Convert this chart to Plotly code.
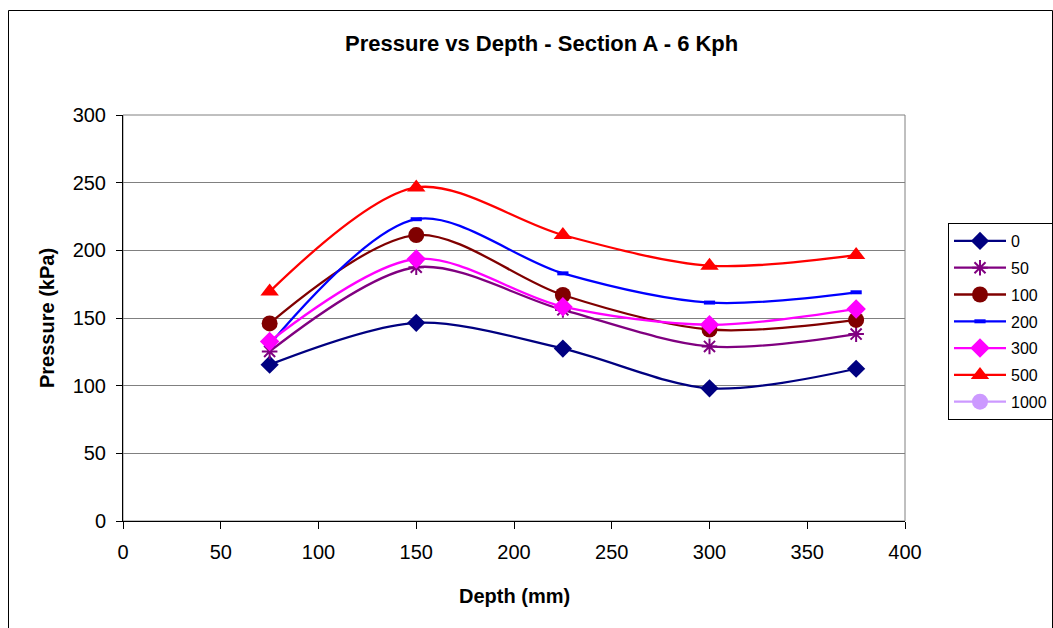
import plotly.graph_objects as go

depth = [75, 150, 225, 300, 375]
series_names = ["0", "50", "100", "200", "300", "500", "1000"]
p0 = [115.5, 146.4, 127.4, 98.0, 112.5]
p50 = [125.3, 187.5, 156.0, 129.0, 138.1]
p100 = [146.0, 211.3, 167.0, 141.5, 148.6]
p200 = [130.5, 223.0, 183.0, 161.4, 169.0]
p300 = [132.7, 193.6, 158.4, 145.0, 156.7]
p500 = [169.5, 246.5, 211.3, 188.7, 196.5]
p1000 = [None, None, None, None, None]

x_ticks = [0, 50, 100, 150, 200, 250, 300, 350, 400]
y_ticks = [0, 50, 100, 150, 200, 250, 300]

values = [p0, p50, p100, p200, p300, p500, p1000]
colors = ["#000080", "#800080", "#800000", "#0000FF", "#FF00FF", "#FF0000", "#CC99FF"]
symbols = ["diamond", "asterisk-open", "circle", "line-ew-open", "diamond", "triangle-up", "circle"]
sizes = [14, 13, 16, 8, 15, 16, 16]
mlw = [0, 2, 0, 4, 0, 0, 0]

FONT = "Arial, Liberation Sans, sans-serif"

fig = go.Figure()
for name, vals, c, s, sz, lw in zip(series_names, values, colors, symbols, sizes, mlw):
    fig.add_trace(go.Scatter(
        x=depth, y=vals, name=name, mode="lines+markers",
        line=dict(color=c, width=2.3, shape="spline", smoothing=0.9),
        marker=dict(symbol=s, size=sz, color=c, line=dict(color=c, width=lw)),
        legendgroup=name,
    ))

L, R, T, B = 123, 148, 115, 107
W, H = 1053, 628
pw, ph = W - L - R, H - T - B

def px_x(px):
    return (px - L) / pw

def px_y(py):
    return (H - B - py) / ph

fig.update_layout(
    width=W, height=H,
    margin=dict(l=L, r=R, t=T, b=B, autoexpand=False),
    paper_bgcolor="white", plot_bgcolor="white",
    font=dict(family=FONT, color="black", size=20),
    showlegend=True,
    legend=dict(
        x=px_x(948), y=px_y(223), xanchor="left", yanchor="top",
        bordercolor="black", borderwidth=1, bgcolor="white",
        font=dict(size=16, family=FONT, color="black"),
        tracegroupgap=3, itemwidth=52,
    ),
    xaxis=dict(
        range=[0, 400], tickvals=x_ticks, ticktext=[str(v) for v in x_ticks],
        showgrid=False, zeroline=False,
        showline=True, linecolor="black", linewidth=1,
        ticks="outside", ticklen=7, tickcolor="black", tickwidth=1,
        tickfont=dict(size=20, family=FONT), ticklabelstandoff=6,
        fixedrange=True,
    ),
    yaxis=dict(
        range=[0, 300], tickvals=y_ticks, ticktext=[str(v) for v in y_ticks],
        showgrid=True, gridcolor="#808080", gridwidth=1, zeroline=False,
        showline=True, linecolor="black", linewidth=1,
        ticks="outside", ticklen=6, tickcolor="black", tickwidth=1,
        tickfont=dict(size=20, family=FONT), ticklabelstandoff=6,
        fixedrange=True,
    ),
    shapes=[
        dict(type="rect", xref="paper", yref="paper", x0=0, x1=1, y0=0, y1=1,
             line=dict(color="#808080", width=1), layer="below"),
        dict(type="rect", xref="paper", yref="paper",
             x0=px_x(8.5), x1=px_x(1052.5), y0=px_y(660), y1=px_y(10.5),
             line=dict(color="black", width=1), layer="below"),
    ],
    annotations=[
        dict(text="<b>Pressure vs Depth - Section A - 6 Kph</b>", xref="paper", yref="paper",
             x=px_x(541), y=px_y(43), xanchor="center", yanchor="middle", showarrow=False,
             font=dict(size=22, family=FONT, color="black")),
        dict(text="<b>Depth (mm)</b>", xref="paper", yref="paper",
             x=px_x(514), y=px_y(596), xanchor="center", yanchor="middle", showarrow=False,
             font=dict(size=20, family=FONT, color="black")),
        dict(text="<b>Pressure (kPa)</b>", xref="paper", yref="paper",
             x=px_x(47), y=px_y(318), xanchor="center", yanchor="middle", showarrow=False,
             textangle=-90, font=dict(size=20, family=FONT, color="black")),
    ],
)

fig.write_html("out.html")
